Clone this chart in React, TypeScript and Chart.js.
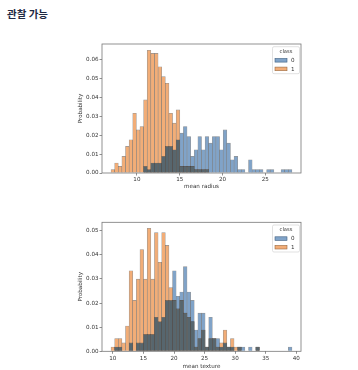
import React, { useEffect, useRef } from "react";
import { Chart, registerables } from "chart.js";

Chart.register(...registerables);
Chart.defaults.font.family = "'DejaVu Sans', sans-serif";

// ---- data (probability per bin, 50 equal-width bins over each range) ----
const BIN_COUNT = 50;
const radiusRange = [6.981, 28.11];
const textureRange = [9.71, 39.28];
const classLabels = ["0", "1"];
const legendTitle = "class";

const radiusClass0 = [
  0, 0, 0, 0, 0, 0, 0, 0, 0, 0.0035,
  0.0018, 0.0053, 0.0053, 0.0053, 0.0088, 0.0141, 0.0141, 0.0123, 0.0176, 0.0211,
  0.0246, 0.0193, 0.0088, 0.0123, 0.0193, 0.0123, 0.0193, 0.0158, 0.0193, 0.0193,
  0.0123, 0.0228, 0.0158, 0.007, 0.0088, 0.0018, 0.0018, 0, 0.007, 0.0018,
  0.0018, 0.0018, 0, 0.0018, 0.0018, 0, 0, 0.0018, 0.0018, 0.0018,
];
const radiusClass1 = [
  0.0018, 0.0053, 0.0035, 0.0088, 0.0141, 0.0176, 0.0316, 0.0228, 0.0246, 0.0387,
  0.065, 0.0633, 0.0633, 0.0562, 0.051, 0.0475, 0.0316, 0.0264, 0.0334, 0.0035,
  0.0035, 0.0035, 0.0035, 0.0018, 0.0018, 0.0018, 0.0018, 0, 0, 0,
  0, 0, 0, 0, 0, 0, 0, 0, 0, 0,
  0, 0, 0, 0, 0, 0, 0, 0, 0, 0,
];
const textureClass0 = [
  0, 0.0018, 0.0018, 0, 0, 0.0035, 0, 0.0035, 0.0035, 0.007,
  0.007, 0.007, 0.0141, 0.0123, 0.0141, 0.0211, 0.0211, 0.0334, 0.0228, 0.0246,
  0.0351, 0.0246, 0.0211, 0.0088, 0.0158, 0.0158, 0.0018, 0.0141, 0.0053, 0.0053,
  0.0018, 0.0035, 0.0018, 0.0018, 0, 0.0018, 0.0018, 0, 0.0018, 0,
  0.0018, 0, 0, 0, 0, 0, 0, 0, 0, 0.0018,
];
const textureClass1 = [
  0.0018, 0.0053, 0.0053, 0.0035, 0.0105, 0.0334, 0.0211, 0.0299, 0.0422, 0.0299,
  0.051, 0.0299, 0.0492, 0.0369, 0.0492, 0.0439, 0.0264, 0.0211, 0.0176, 0.0211,
  0.0158, 0.0141, 0.0123, 0.0018, 0.0053, 0.0088, 0.0018, 0.0053, 0.0053, 0.0018,
  0.0035, 0.0088, 0.0018, 0.0053, 0.0018, 0.0018, 0, 0, 0, 0,
  0.0018, 0, 0, 0, 0, 0, 0, 0, 0, 0,
];

const radiusXTicks = [10, 15, 20, 25];
const textureXTicks = [10, 15, 20, 25, 30, 35, 40];
const radiusYTicks = [0, 0.01, 0.02, 0.03, 0.04, 0.05, 0.06];
const textureYTicks = [0, 0.01, 0.02, 0.03, 0.04, 0.05];

// ---- styles ----
const BLUE = "#80a3c8";
const ORANGE = "#f2ad77";
const DARK = "#57666e";
const EDGE = "rgba(60,60,60,0.55)";
const TEXT = "#333333";
const FONT = 5.6;

const framePlugin = {
  id: "frame",
  afterDatasetsDraw(chart: any) {
    const { ctx, chartArea: a } = chart;
    ctx.save();
    ctx.strokeStyle = "#777777";
    ctx.lineWidth = 0.8;
    ctx.strokeRect(a.left, a.top, a.right - a.left, a.bottom - a.top);
    ctx.restore();
  },
};

const hueLegendPlugin = {
  id: "hueLegend",
  afterDraw(chart: any) {
    const { ctx, chartArea: a } = chart;
    const w = 27;
    const h = 27;
    const x = a.right - 1.5 - w;
    const y = a.top + 2.7;
    ctx.save();
    ctx.fillStyle = "rgba(255,255,255,0.9)";
    ctx.strokeStyle = "#cccccc";
    ctx.lineWidth = 0.6;
    ctx.beginPath();
    ctx.roundRect(x, y, w, h, 1.5);
    ctx.fill();
    ctx.stroke();
    ctx.fillStyle = TEXT;
    ctx.font = `5.2px 'DejaVu Sans', sans-serif`;
    ctx.textAlign = "center";
    ctx.textBaseline = "middle";
    ctx.fillText(legendTitle, x + w / 2, y + 5);
    const colors = [BLUE, ORANGE];
    const edges = ["#3f5f80", "#9a6a40"];
    classLabels.forEach((lab, i) => {
      const cy = y + 13.6 + i * 8.6;
      ctx.fillStyle = colors[i];
      ctx.fillRect(x + 2.5, cy - 1.8, 12, 3.6);
      ctx.strokeStyle = edges[i];
      ctx.lineWidth = 0.6;
      ctx.strokeRect(x + 2.5, cy - 1.8, 12, 3.6);
      ctx.fillStyle = TEXT;
      ctx.textAlign = "left";
      ctx.font = `${FONT}px 'DejaVu Sans', sans-serif`;
      ctx.fillText(lab, x + 18.5, cy + 0.2);
    });
    ctx.restore();
  },
};

type HistProps = {
  top: number;
  height: number;
  range: number[];
  xMin: number;
  xMax: number;
  yMax: number;
  class0: number[];
  class1: number[];
  xTicks: number[];
  yTicks: number[];
  xTitle: string;
  padTop: number;
  xAxisHeight: number;
  xTickPad: number;
  xTitlePad: number;
};

function Histogram(p: HistProps) {
  const ref = useRef<HTMLCanvasElement>(null);
  useEffect(() => {
    if (!ref.current) return;
    const width = (p.range[1] - p.range[0]) / BIN_COUNT;
    const centers = p.class0.map((_, i) => p.range[0] + width * (i + 0.5));
    const overlap = p.class0.map((v, i) => Math.min(v, p.class1[i]));
    const toPts = (arr: number[]) => centers.map((x, i) => ({ x, y: arr[i] }));
    const bar = {
      barPercentage: 1,
      categoryPercentage: 1,
      borderWidth: 0.6,
      borderColor: EDGE,
      borderSkipped: "start" as const,
    };
    const tickFont = { size: FONT, family: "'DejaVu Sans', sans-serif" };
    const grid = {
      display: true,
      offset: false,
      drawOnChartArea: false,
      drawTicks: true,
      tickLength: 2.5,
      tickColor: "#444444",
      tickWidth: 0.6,
    };
    const chart = new Chart(ref.current, {
      type: "bar",
      data: {
        datasets: [
          { label: "overlap", data: toPts(overlap), backgroundColor: DARK, order: 0, ...bar },
          { label: classLabels[1], data: toPts(p.class1), backgroundColor: ORANGE, order: 1, ...bar },
          { label: classLabels[0], data: toPts(p.class0), backgroundColor: BLUE, order: 2, ...bar },
        ],
      } as any,
      options: {
        responsive: false,
        animation: false,
        events: [],
        layout: { padding: { top: p.padTop, right: 57, bottom: 0, left: 0 } },
        plugins: { legend: { display: false }, tooltip: { enabled: false } },
        scales: {
          x: {
            type: "linear",
            offset: false,
            stacked: true,
            min: p.xMin,
            max: p.xMax,
            afterBuildTicks: (s: any) => {
              s.ticks = p.xTicks.map((v) => ({ value: v }));
            },
            afterFit: (s: any) => {
              s.height = p.xAxisHeight;
            },
            ticks: {
              callback: (v: any) => String(v),
              font: tickFont,
              color: TEXT,
              padding: p.xTickPad,
              maxRotation: 0,
              autoSkip: false,
            },
            grid,
            border: { display: false },
            title: {
              display: true,
              text: p.xTitle,
              font: tickFont,
              color: TEXT,
              padding: { top: 0, bottom: p.xTitlePad },
            },
          },
          y: {
            type: "linear",
            stacked: false,
            min: 0,
            max: p.yMax,
            afterBuildTicks: (s: any) => {
              s.ticks = p.yTicks.map((v) => ({ value: v }));
            },
            afterFit: (s: any) => {
              s.width = 102;
            },
            ticks: {
              callback: (v: any) => Number(v).toFixed(2),
              font: tickFont,
              color: TEXT,
              padding: 1,
            },
            grid,
            border: { display: false },
            title: {
              display: true,
              text: "Probability",
              font: tickFont,
              color: TEXT,
              padding: { top: 76.7, bottom: 0 },
            },
          },
        },
      } as any,
      plugins: [framePlugin, hueLegendPlugin],
    });
    return () => chart.destroy();
  }, []);
  return (
    <canvas
      ref={ref}
      width={358}
      height={p.height}
      style={{ position: "absolute", left: 0, top: p.top, display: "block" }}
    />
  );
}

export default function App() {
  return (
    <div
      style={{
        position: "absolute",
        left: 0,
        top: 0,
        width: 358,
        height: 370,
        background: "#ffffff",
        overflow: "hidden",
      }}
    >
      <div
        style={{
          position: "absolute",
          left: 7,
          top: 7,
          fontFamily: "'Noto Sans CJK KR', sans-serif",
          fontWeight: 700,
          fontSize: "10.5px",
          lineHeight: "14px",
          color: "#1f2a44",
          whiteSpace: "nowrap",
        }}
      >
        관찰 가능
      </div>
      <Histogram
        top={0}
        height={195}
        range={radiusRange}
        xMin={5.924}
        xMax={29.167}
        yMax={0.0683}
        class0={radiusClass0}
        class1={radiusClass1}
        xTicks={radiusXTicks}
        yTicks={radiusYTicks}
        xTitle="mean radius"
        padTop={44}
        xAxisHeight={22}
        xTickPad={1}
        xTitlePad={5}
      />
      <Histogram
        top={185}
        height={185}
        range={textureRange}
        xMin={8.231}
        xMax={40.759}
        yMax={0.0535}
        class0={textureClass0}
        class1={textureClass1}
        xTicks={textureXTicks}
        yTicks={textureYTicks}
        xTitle="mean texture"
        padTop={37.3}
        xAxisHeight={18.7}
        xTickPad={1.75}
        xTitlePad={0}
      />
    </div>
  );
}
